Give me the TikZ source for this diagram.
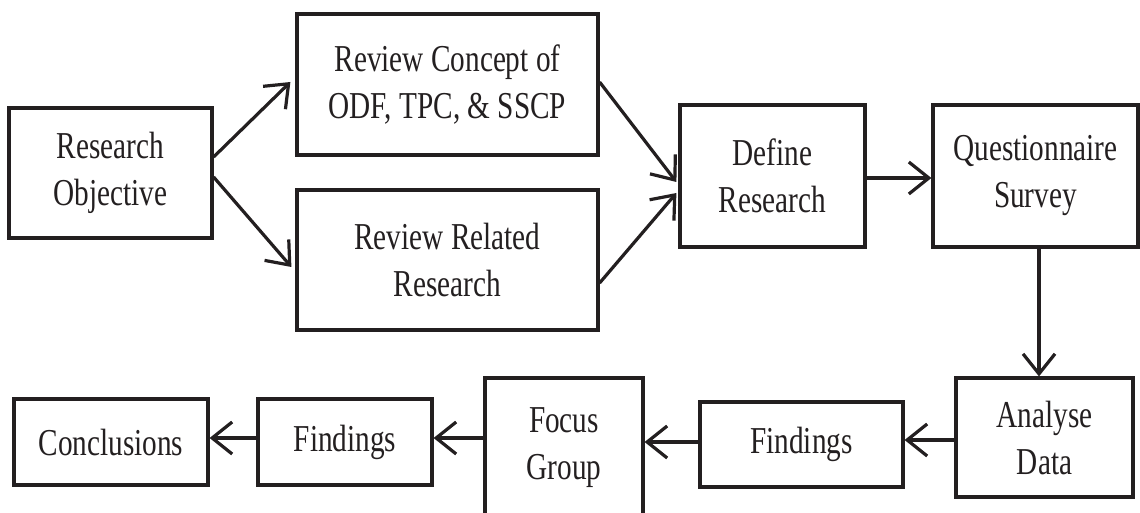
\documentclass[tikz,border=0pt]{standalone}
\usepackage{fontspec}
\setmainfont{Liberation Serif}[FakeStretch=0.77]
\usetikzlibrary{arrows.meta}
\definecolor{ink}{HTML}{231F20}
\begin{document}
\begin{tikzpicture}[x=1pt,y=1pt,
  box/.style={draw=ink, line width=3.2pt, inner sep=0pt, text=ink, align=center,
    font=\fontsize{38pt}{47pt}\selectfont},
  conn/.style={draw=ink, line width=3.2pt, -{Straight Barb[length=20pt,width=32pt,line width=3.2pt]}}]
\useasboundingbox (0,0) rectangle (1140,512);
\node[box, minimum width=203pt, minimum height=130pt] (RO) at (110.5,339) {Research\\Objective};
\node[box, minimum width=301pt, minimum height=141pt] (RC) at (447.5,427.5) {Review Concept of\\ODF, TPC, \& SSCP};
\node[box, minimum width=301pt, minimum height=140pt] (RR) at (447.5,252) {Review Related\\Research};
\node[box, minimum width=185pt, minimum height=142pt] (DR) at (772.5,336) {Define\\Research};
\node[box, minimum width=205pt, minimum height=142pt] (QS) at (1035.5,336) {Questionnaire\\Survey};
\node[box, minimum width=177pt, minimum height=119pt] (AD) at (1044.5,74.5) {Analyse\\Data};
\node[box, minimum width=203pt, minimum height=85pt] (F2) at (801.5,67.5) {Findings};
\node[box, minimum width=158pt, minimum height=138pt] (FG) at (564,65) {};
\node[text=ink, align=center, inner sep=0pt, font=\fontsize{38pt}{47pt}\selectfont] (FGt) at (564,64) {Focus\\Group};
\node[box, minimum width=174pt, minimum height=86pt] (F1) at (345,70) {Findings};
\node[box, minimum width=194pt, minimum height=86pt] (C) at (111,70) {Conclusions};

\draw[conn] ([yshift=16pt]RO.east) -- ([xshift=-5pt,yshift=2.5pt]RC.west);
\draw[conn] ([yshift=-4pt]RO.east) -- ([xshift=-4pt,yshift=-7pt]RR.west);
\draw[conn] ([yshift=2.5pt]RC.east) -- ([xshift=-2pt,yshift=-6pt]DR.west);
\draw[conn] ([yshift=-23pt]RR.east) -- ([xshift=-2pt,yshift=-17pt]DR.west);
\draw[conn] ([yshift=-2pt]DR.east) -- ([yshift=-2pt]QS.west);
\draw[conn] ([xshift=3.5pt]QS.south) -- ([xshift=-5.5pt]AD.north);
\draw[conn] ([yshift=-2.5pt]AD.west) -- ([yshift=4.5pt]F2.east);
\draw[conn] ([yshift=2.5pt]F2.west) -- ([yshift=5pt]FG.east);
\draw[conn] ([yshift=9pt]FG.west) -- ([yshift=4pt]F1.east);
\draw[conn] ([yshift=4pt]F1.west) -- ([yshift=4pt]C.east);
\end{tikzpicture}
\end{document}
